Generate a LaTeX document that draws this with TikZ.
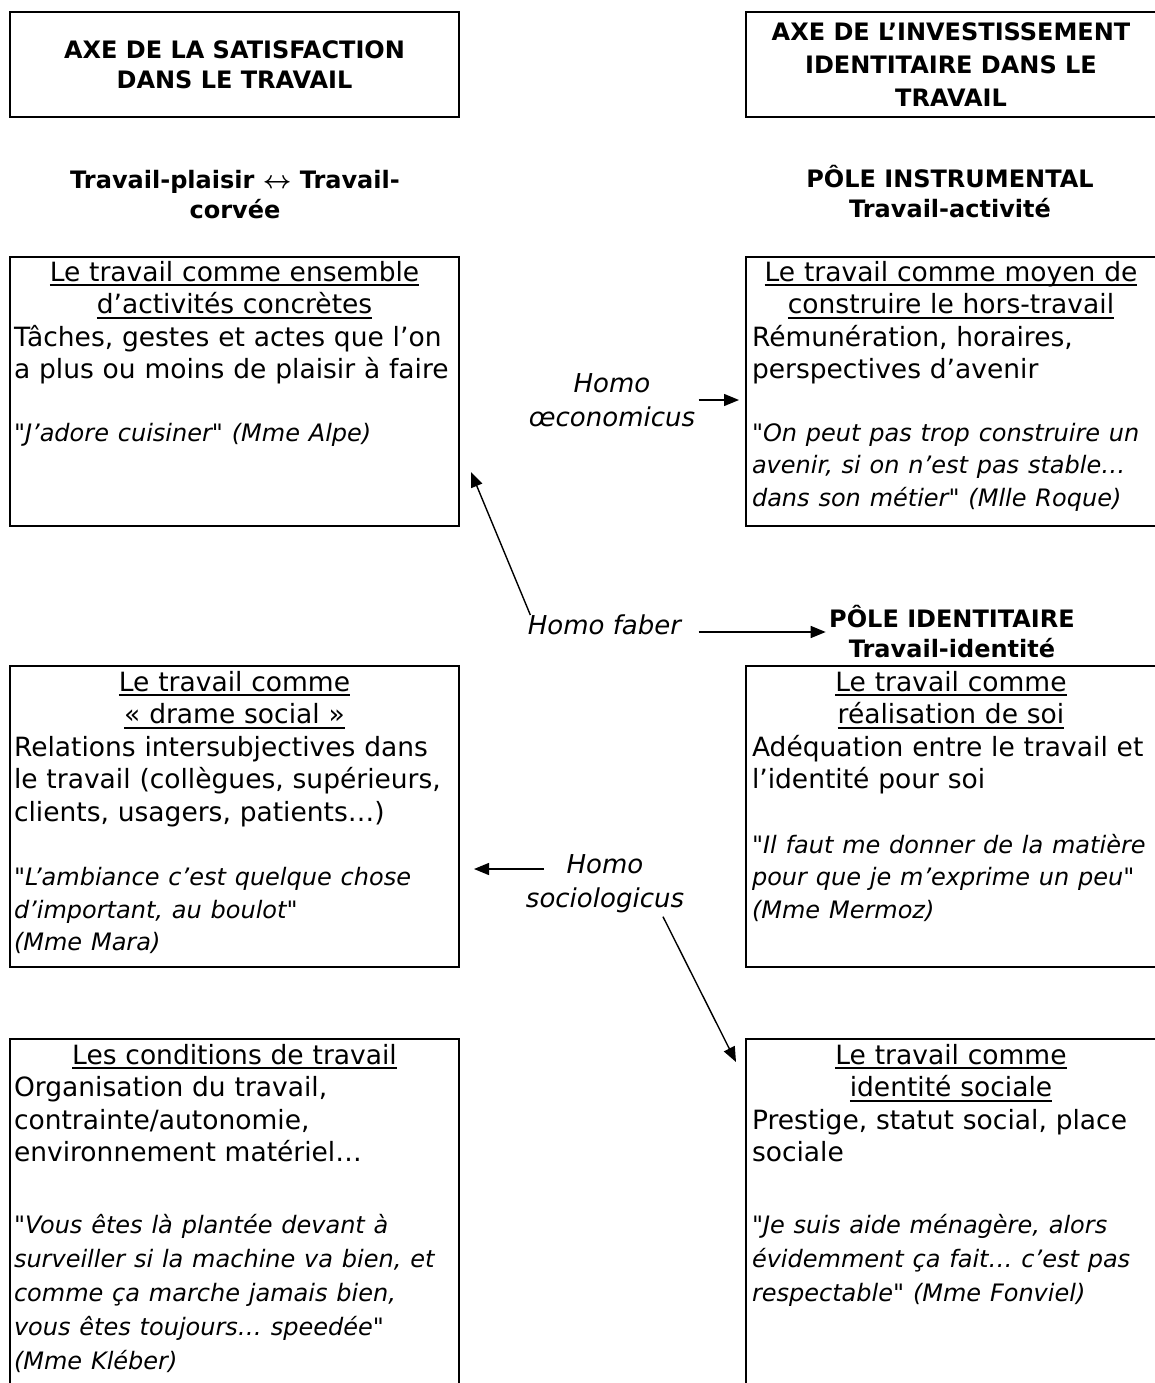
\documentclass[tikz,border=0pt]{standalone}
\usepackage{fontspec}
\setmainfont{DejaVu Sans}
\newfontfamily\quotefam{DejaVu Sans}
\usetikzlibrary{arrows.meta}
\setlength{\parindent}{0pt}
\newsavebox{\titlebox}
\newcommand{\titleline}[1]{\leavevmode\sbox{\titlebox}{#1}\rlap{\rule[-5pt]{\wd\titlebox}{2pt}}\usebox{\titlebox}}
\newcommand{\bothways}{{\fontsize{34}{30}\selectfont\boldmath$\leftrightarrow$}}
\newcommand{\cellfont}{\fontsize{26.5}{32.5}\selectfont}
\newcommand{\quotefont}{\quotefam\fontsize{24}{32.5}\selectfont\itshape}
\newcommand{\polefont}{\fontsize{24}{30}\selectfont\bfseries}
\newcommand{\homofont}{\fontsize{26}{34}\selectfont\itshape}
\tikzset{
    every node/.style={align=center,},
    cell/.style={draw,rectangle,line width=2pt,inner sep=0pt,},
    celltext/.style={anchor=north,inner sep=0pt,align=left,font=\cellfont,},
    pole/.style={font=\polefont,},
    homo/.style={font=\homofont,},
    arr/.style={-{Triangle[length=15pt,width=12pt]},line width=1.4pt,},
}

\begin{document}
\begin{tikzpicture}[x=1pt,y=-1pt]
                \useasboundingbox (0,0) rectangle (1154,1383);

                \node[cell,pole,minimum width=449,minimum height=105] (axesat) at (234.5,64.5) {AXE DE LA SATISFACTION\\DANS LE TRAVAIL};
                \node[cell,pole,minimum width=410,minimum height=105] (axeid) at (951,64.5) {AXE DE L’INVESTISSEMENT\\[3pt]IDENTITAIRE DANS LE\\[3pt]TRAVAIL};

                \node[pole] (plaisir) at (235,195) {Travail-plaisir \bothways{} Travail-\\corvée};
                \node[pole] (instru) at (950,192) {PÔLE INSTRUMENTAL\\Travail-activité};

                \node[cell,minimum width=449,minimum height=269] (activ) at (234.5,391.5) {};
                \node[cell,minimum width=410,minimum height=269] (horstrav) at (951,391.5) {};
                \node[cell,minimum width=449,minimum height=301] (drame) at (234.5,816.5) {};
                \node[cell,minimum width=410,minimum height=301] (realis) at (951,816.5) {};
                \node[cell,minimum width=449,minimum height=356] (condit) at (234.5,1217) {};
                \node[cell,minimum width=410,minimum height=356] (identsoc) at (951,1217) {};

                \node[celltext,text width=441] (activ_txt) at ([yshift=-5]activ.north) {%
                    {\centering\titleline{Le travail comme ensemble}\par\titleline{d’activités concrètes}\par}
                    Tâches, gestes et actes que l’on\par
                    a plus ou moins de plaisir à faire\par
                    \vspace{30pt}
                    {\quotefont "J’adore cuisiner" (Mme Alpe)\par}};
                \node[celltext,text width=398] (horstrav_txt) at ([yshift=-5]horstrav.north) {%
                    {\centering\titleline{Le travail comme moyen de}\par\titleline{construire le hors-travail}\par}
                    Rémunération, horaires,\par
                    perspectives d’avenir\par
                    \vspace{30pt}
                    {\quotefont "On peut pas trop construire un\par
                    avenir, si on n’est pas stable…\par
                    dans son métier" (Mlle Roque)\par}};
                \node[celltext,text width=441] (drame_txt) at ([yshift=-6]drame.north) {%
                    {\centering\titleline{Le travail comme}\par\titleline{«~drame social~»}\par}
                    Relations intersubjectives dans\par
                    le travail (collègues, supérieurs,\par
                    clients, usagers, patients…)\par
                    \vspace{32pt}
                    {\quotefont "L’ambiance c’est quelque chose\par
                    d’important, au boulot"\par
                    (Mme Mara)\par}};
                \node[celltext,text width=398] (realis_txt) at ([yshift=-6]realis.north) {%
                    {\centering\titleline{Le travail comme}\par\titleline{réalisation de soi}\par}
                    Adéquation entre le travail et\par
                    l’identité pour soi\par
                    \vspace{32pt}
                    {\quotefont "Il faut me donner de la matière\par
                    pour que je m’exprime un peu"\par
                    (Mme Mermoz)\par}};
                \node[celltext,text width=441] (condit_txt) at ([yshift=-6]condit.north) {%
                    {\centering\titleline{Les conditions de travail}\par}
                    Organisation du travail,\par
                    contrainte/autonomie,\par
                    environnement matériel…\par
                    \vspace{38pt}
                    {\quotefont\baselineskip=34pt "Vous êtes là plantée devant à\par
                    surveiller si la machine va bien, et\par
                    comme ça marche jamais bien,\par
                    vous êtes toujours… speedée"\par
                    (Mme Kléber)\par}};
                \node[celltext,text width=398] (identsoc_txt) at ([yshift=-6]identsoc.north) {%
                    {\centering\titleline{Le travail comme}\par\titleline{identité sociale}\par}
                    Prestige, statut social, place\par
                    sociale\par
                    \vspace{38pt}
                    {\quotefont\baselineskip=34pt "Je suis aide ménagère, alors\par
                    évidemment ça fait… c’est pas\par
                    respectable" (Mme Fonviel)\par}};

                \node[homo] (oeco) at (612,400) {Homo\\œconomicus};
                \node[homo] (faber) at (604.5,625) {Homo faber};
                \node[pole] (ident) at (952,632) {PÔLE IDENTITAIRE\\Travail-identité};
                \node[homo] (socio) at (605,884) {Homo\\sociologicus};

                \coordinate (fabertip) at (471,472);
                \coordinate (sociostart) at (544,869);
                \coordinate (sociotip) at (736,1062);

                \draw[arr,shorten >=6pt] (oeco.east) -- (oeco.east -| horstrav.west);
                \draw[arr] ([xshift=6,yshift=10]faber.west) -- (fabertip);
                \draw[arr,shorten <=14pt] (faber.east |- ident.west) -- (ident.west);
                \draw[arr] (sociostart) -- ([xshift=14]drame.east |- sociostart);
                \draw[arr] ([xshift=58]socio.south) -- (sociotip);
            \end{tikzpicture}
\end{document}
